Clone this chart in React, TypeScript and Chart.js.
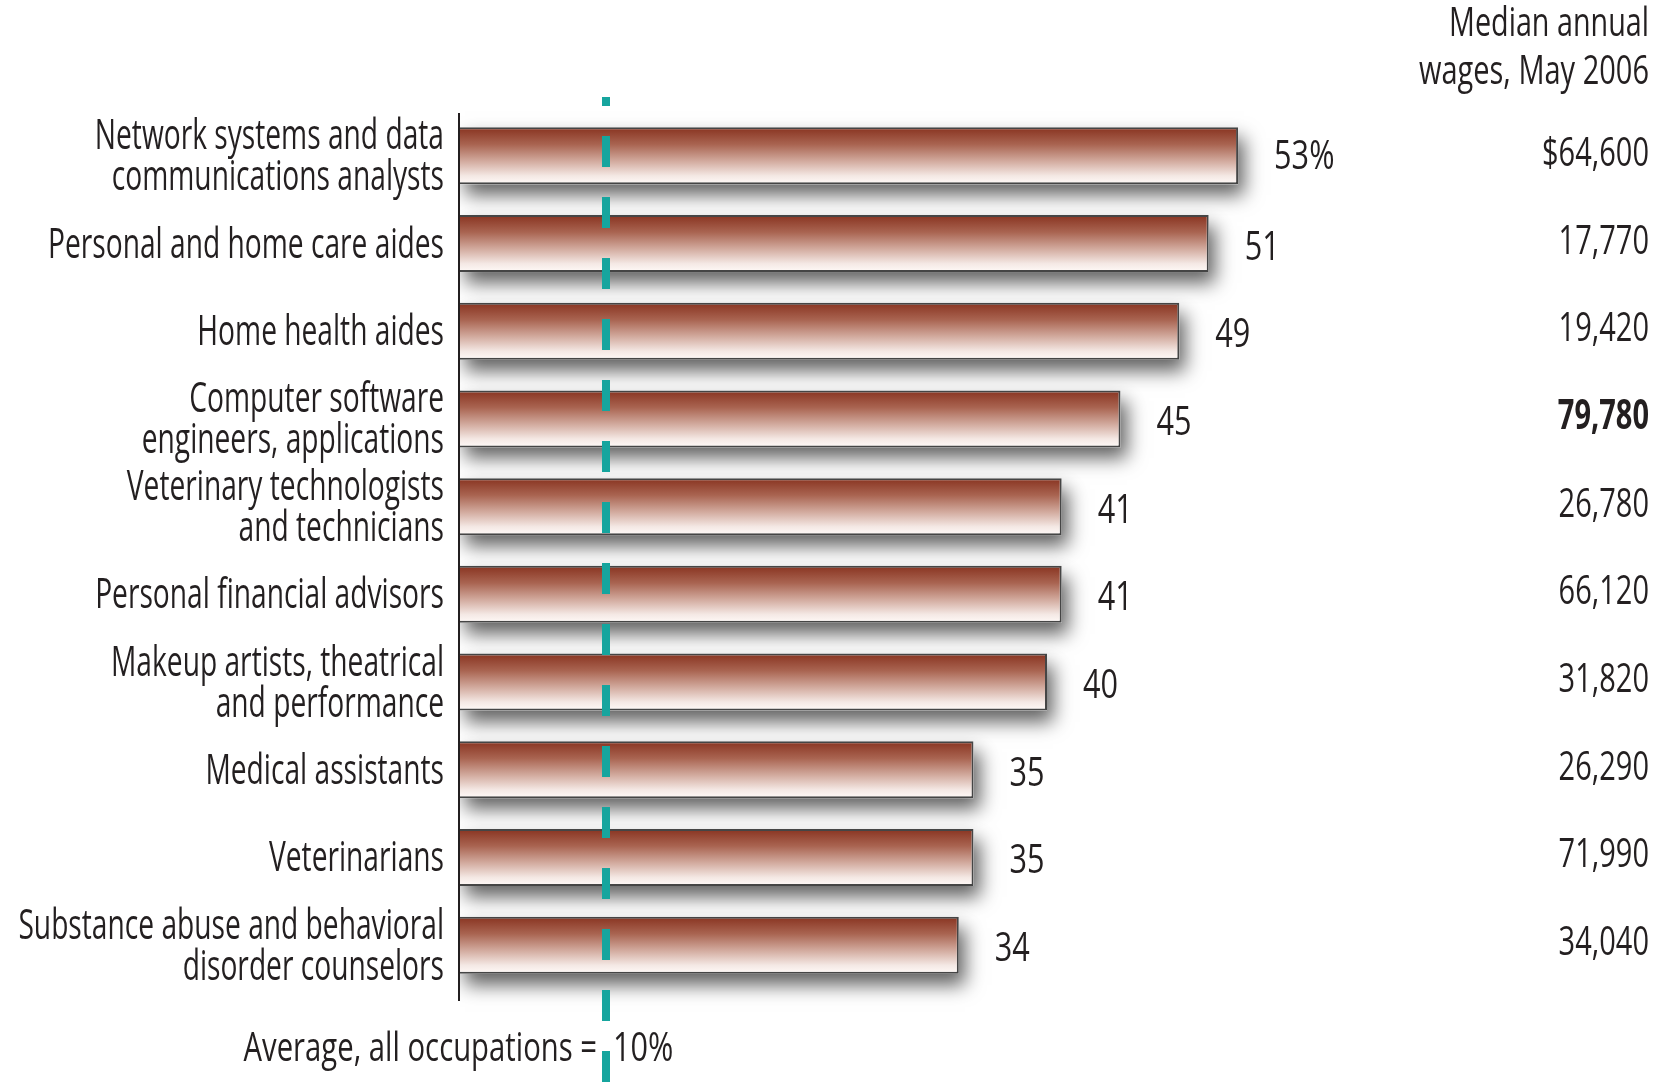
import { useEffect, useRef } from 'react';
import { Chart, registerables } from 'chart.js';

Chart.register(...registerables);

// ---- Data ----
const OCCUPATIONS: string[][] = [
  ['Network systems and data', 'communications analysts'],
  ['Personal and home care aides'],
  ['Home health aides'],
  ['Computer software', 'engineers, applications'],
  ['Veterinary technologists', 'and technicians'],
  ['Personal financial advisors'],
  ['Makeup artists, theatrical', 'and performance'],
  ['Medical assistants'],
  ['Veterinarians'],
  ['Substance abuse and behavioral', 'disorder counselors'],
];
const GROWTH_PCT: number[] = [53, 51, 49, 45, 41, 41, 40, 35, 35, 34];
const MEDIAN_WAGES: number[] = [64600, 17770, 19420, 79780, 26780, 66120, 31820, 26290, 71990, 34040];
const AVERAGE_GROWTH = 10;
const WAGE_HEADER: string[] = ['Median annual', 'wages, May 2006'];
const AVERAGE_LABEL = 'Average, all occupations =';

// ---- Style ----
const FONT_FAMILY = '"Open Sans", "Noto Sans", sans-serif';
const TEXT_COLOR = '#231f20';
const TEAL = '#16a59e';
const BAR_FRACTION = 0.65;
const X_MAX = 80;

function fmtWage(v: number, i: number) {
  const s = v.toLocaleString('en-US');
  return i === 0 ? '$' + s : s;
}

export default function App() {
  const canvasRef = useRef<HTMLCanvasElement | null>(null);

  useEffect(() => {
    const canvas = canvasRef.current;
    if (!canvas) return;

    let sx = 0.6;
    const drawText = (
      ctx: CanvasRenderingContext2D,
      text: string,
      x: number,
      y: number,
      align: CanvasTextAlign,
      size: number,
      widen = 1,
      bold = false
    ) => {
      ctx.save();
      ctx.font = `${bold ? 'bold ' : '500 '}${size}px ${FONT_FAMILY}`;
      ctx.fillStyle = TEXT_COLOR;
      ctx.textAlign = align;
      ctx.textBaseline = 'alphabetic';
      ctx.translate(x, y);
      ctx.scale(sx * widen, 1);
      ctx.fillText(text, 0, 0);
      ctx.restore();
    };

    const shadowPlugin = {
      id: 'barShadow',
      beforeDatasetsDraw(chart: any) {
        const ctx = chart.ctx as CanvasRenderingContext2D;
        const area = chart.chartArea;
        const meta = chart.getDatasetMeta(0);
        ctx.save();
        ctx.beginPath();
        ctx.rect(area.left + 1, 0, chart.width, chart.height);
        ctx.clip();
        ctx.shadowColor = 'rgba(0,0,0,0.62)';
        ctx.shadowBlur = 18;
        ctx.shadowOffsetX = 6;
        ctx.shadowOffsetY = 11;
        ctx.fillStyle = '#ffffff';
        meta.data.forEach((el: any) => {
          const p = el.getProps(['x', 'y', 'base', 'height'], true);
          ctx.fillRect(p.base, p.y - p.height / 2, p.x - p.base, p.height);
        });
        ctx.restore();
      },
    };

    const overlayPlugin = {
      id: 'overlay',
      afterDatasetsDraw(chart: any) {
        const ctx = chart.ctx as CanvasRenderingContext2D;
        const area = chart.chartArea;
        const xs = chart.scales.x;
        const ys = chart.scales.y;

        ctx.save();
        ctx.font = `500 42px ${FONT_FAMILY}`;
        const w = ctx.measureText(OCCUPATIONS[1][0]).width;
        if (w > 0) sx = 394 / w;
        ctx.restore();

        // y axis line
        ctx.save();
        ctx.strokeStyle = TEXT_COLOR;
        ctx.lineWidth = 2;
        ctx.beginPath();
        ctx.moveTo(area.left, area.top + 1);
        ctx.lineTo(area.left, area.bottom + 12);
        ctx.stroke();
        ctx.restore();

        // average dashed line
        const ax = xs.getPixelForValue(AVERAGE_GROWTH);
        ctx.save();
        ctx.strokeStyle = TEAL;
        ctx.lineWidth = 8;
        ctx.setLineDash([31, 30]);
        ctx.lineDashOffset = 22;
        ctx.beginPath();
        ctx.moveTo(ax, area.top - 15);
        ctx.lineTo(ax, chart.height);
        ctx.stroke();
        ctx.restore();

        const meta = chart.getDatasetMeta(0);
        const maxWage = Math.max(...MEDIAN_WAGES);
        meta.data.forEach((el: any, i: number) => {
          const p = el.getProps(['x', 'y'], true);
          const cy = ys.getPixelForValue(i);
          // category labels
          const lines = OCCUPATIONS[i];
          lines.forEach((ln, j) => {
            const by = cy + 14 + (j - (lines.length - 1) / 2) * 41;
            drawText(ctx, ln, area.left - 15, by, 'right', 42, 1.005);
          });
          // value labels
          const v = GROWTH_PCT[i];
          drawText(ctx, i === 0 ? `${v}%` : String(v), p.x + 36, p.y + (i === 0 ? 13 : 16), 'left', 41, 1.12);
          // wages
          drawText(ctx, fmtWage(MEDIAN_WAGES[i], i), chart.width - 16, cy + 10, 'right', 41, 1.06, MEDIAN_WAGES[i] === maxWage);
        });

        // header
        drawText(ctx, WAGE_HEADER[0], chart.width - 16, 36, 'right', 41, 1.05);
        drawText(ctx, WAGE_HEADER[1], chart.width - 16, 84, 'right', 41, 1.06);

        // average label
        drawText(ctx, AVERAGE_LABEL, ax - 9, 1061, 'right', 41, 1.07);
        drawText(ctx, `${AVERAGE_GROWTH}%`, ax + 7, 1061, 'left', 41, 1.12);
      },
    };

    const chart = new Chart(canvas, {
      type: 'bar',
      data: {
        labels: OCCUPATIONS.map((l) => l.join(' ')),
        datasets: [
          {
            data: GROWTH_PCT,
            barPercentage: BAR_FRACTION,
            categoryPercentage: 1,
            borderWidth: 2,
            borderColor: '#454545',
            borderSkipped: 'start',
            backgroundColor: (c: any) => {
              const ch = c.chart;
              const ys = ch.scales?.y;
              const area = ch.chartArea;
              if (!ys || !area || c.dataIndex === undefined) return '#b06a55';
              const center = ys.getPixelForValue(c.dataIndex);
              const half = ((area.bottom - area.top) / OCCUPATIONS.length) * BAR_FRACTION / 2;
              const g = ch.ctx.createLinearGradient(0, center - half, 0, center + half);
              g.addColorStop(0, '#883320');
              g.addColorStop(0.3, '#a96451');
              g.addColorStop(0.6, '#d3aca0');
              g.addColorStop(0.85, '#f4e8e4');
              g.addColorStop(1, '#fffaf8');
              return g;
            },
          },
        ],
      },
      options: {
        indexAxis: 'y',
        animation: false,
        responsive: false,
        devicePixelRatio: 1,
        layout: { padding: { left: 459, right: 30, top: 112, bottom: 95 } },
        plugins: {
          legend: { display: false },
          tooltip: { enabled: false },
          title: { display: false },
        },
        scales: {
          x: { display: false, min: 0, max: X_MAX, grid: { display: false } },
          y: { display: false, grid: { display: false } },
        },
      },
      plugins: [shadowPlugin, overlayPlugin],
    });

    return () => chart.destroy();
  }, []);

  return (
    <div style={{ position: 'fixed', left: 0, top: 0, width: 1665, height: 1084, background: '#fff' }}>
      <canvas ref={canvasRef} width={1665} height={1084} style={{ display: 'block', width: 1665, height: 1084 }} />
    </div>
  );
}
